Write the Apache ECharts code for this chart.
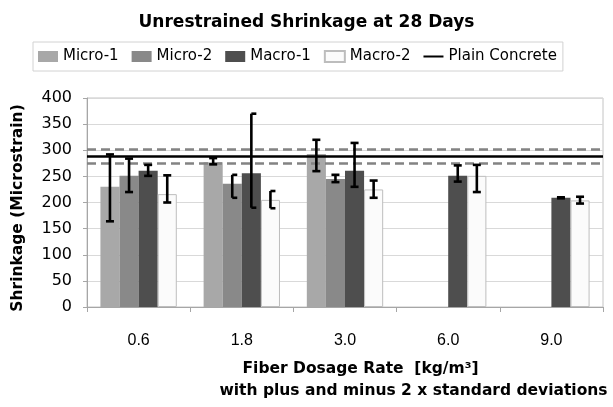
<!DOCTYPE html>
<html>
<head>
<meta charset="utf-8">
<script src="https://cdn.jsdelivr.net/npm/echarts@6/dist/echarts.min.js"></script>
<style>
html,body{margin:0;padding:0;background:#fff;}
#c{width:613px;height:407px;}
</style>
</head>
<body>
<div id="c"></div>
<script>
// ---- data ----
const categories = ['0.6', '1.8', '3.0', '6.0', '9.0'];
const seriesNames = ['Micro-1', 'Micro-2', 'Macro-1', 'Macro-2'];
const micro1 = [230, 277, 293, null, null];
const micro2 = [251, 236, 245, null, null];
const macro1 = [261, 256, 261, 251, 209];
const macro2 = [216, 205, 225, 251, 204];
// error bar ranges [low, high] (plus / minus 2 x standard deviations)
const micro1Err = [[164, 292], [273, 285], [260, 320], null, null];
const micro2Err = [[220, 284], [209, 253], [239, 253], null, null];
const macro1Err = [[251, 272], [190, 370], [230, 314], [240, 271], [208, 210]];
const macro2Err = [[200, 252], [189, 222], [209, 242], [220, 272], [198, 211]];
const plainConcrete = 289;
const plainLow = 275;
const plainHigh = 301;
const yTicks = [0, 50, 100, 150, 200, 250, 300, 350, 400];

// ---- styling ----
const barValues = [micro1, micro2, macro1, macro2];
const errValues = [micro1Err, micro2Err, macro1Err, macro2Err];
const barColors = ['#a8a8a8', '#898989', '#4e4e4e', '#fbfbfb'];
// error bars drawn as "[" (caps on one side only): [seriesIndex, categoryIndex]
const bracketBars = [[1, 1], [2, 1], [3, 1]];
const catGap = 0.26;
const fontA = 'Liberation Sans, Arial, sans-serif';
const fontD = 'DejaVu Sans, sans-serif';

const chart = echarts.init(document.getElementById('c'), null, {renderer: 'canvas'});

const series = [];
seriesNames.forEach((name, i) => {
  series.push({
    name: name,
    type: 'bar',
    data: barValues[i],
    barGap: '0%',
    barCategoryGap: (catGap * 100) + '%',
    itemStyle: i === 3
      ? {color: barColors[i], borderColor: '#bdbdbd', borderWidth: 1}
      : {color: barColors[i]},
    emphasis: {disabled: true},
    z: 2
  });
});

seriesNames.forEach((name, si) => {
  const data = [];
  errValues[si].forEach((e, ci) => { if (e) data.push([ci, e[0], e[1]]); });
  series.push({
    name: name + ' error',
    type: 'custom',
    data: data,
    encode: {x: 0, y: [1, 2]},
    z: 5,
    silent: true,
    renderItem: function (params, api) {
      const c = api.value(0);
      const lo = api.value(1), hi = api.value(2);
      const band = api.size([1, 0])[0];
      const bw = band * (1 - catGap) / 4;
      const pLo = api.coord([c, lo]);
      const pHi = api.coord([c, hi]);
      const x = pLo[0] + (si - 1.5) * bw;
      const half = bracketBars.some(b => b[0] === si && b[1] === c);
      const capL = half ? 0 : 4, capR = half ? 5 : 4;
      const st = {stroke: '#000', lineWidth: 2.6, fill: null};
      return {
        type: 'group',
        children: [
          {type: 'line', shape: {x1: x, y1: pLo[1], x2: x, y2: pHi[1]}, style: st},
          {type: 'line', shape: {x1: x - capL, y1: pHi[1], x2: x + capR, y2: pHi[1]}, style: st},
          {type: 'line', shape: {x1: x - capL, y1: pLo[1], x2: x + capR, y2: pLo[1]}, style: st}
        ]
      };
    }
  });
});

series.push({
  name: 'Plain Concrete',
  type: 'line',
  data: categories.map(() => null),
  symbol: 'none',
  showSymbol: false,
  lineStyle: {color: '#000', width: 2.5},
  itemStyle: {color: '#000'},
  z: 4,
  markLine: {
    silent: true,
    symbol: 'none',
    label: {show: false},
    animation: false,
    data: [
      {yAxis: plainHigh, lineStyle: {color: '#838383', width: 2.6, type: [9, 5]}},
      {yAxis: plainLow, lineStyle: {color: '#838383', width: 2.6, type: [9, 5]}},
      {yAxis: plainConcrete, lineStyle: {color: '#000', width: 2.5, type: 'solid'}}
    ]
  }
});

const option = {
  animation: false,
  backgroundColor: '#fff',
  textStyle: {fontFamily: fontD, color: '#000'},
  title: {
    text: 'Unrestrained Shrinkage at 28 Days',
    left: 'center',
    top: 9,
    textStyle: {fontFamily: fontD, fontSize: 17, fontWeight: 'bold', color: '#000'}
  },
  legend: {
    left: 33,
    top: 42,
    orient: 'horizontal',
    padding: [7, 6, 7, 5],
    itemGap: 13,
    itemWidth: 20,
    itemHeight: 11,
    borderColor: '#d2d2d2',
    borderWidth: 1,
    selectedMode: false,
    textStyle: {fontFamily: fontD, fontSize: 15, color: '#000'},
    data: [
      {name: 'Micro-1', icon: 'rect'},
      {name: 'Micro-2', icon: 'rect'},
      {name: 'Macro-1', icon: 'rect'},
      {name: 'Macro-2', icon: 'rect'},
      {name: 'Plain Concrete', icon: 'path://M0,0L22,0L22,0ZM0,4.3H22V6.7H0ZM0,11L22,11L22,11Z',
        itemStyle: {color: '#000', borderWidth: 0}}
    ]
  },
  grid: {
    left: 87, right: 10, top: 98, bottom: 100,
    show: true, borderColor: '#c4c4c4', borderWidth: 1, backgroundColor: 'transparent'
  },
  xAxis: {
    type: 'category',
    data: categories,
    boundaryGap: true,
    axisLine: {lineStyle: {color: '#a6a6a6', width: 1}},
    axisTick: {show: true, length: 5, inside: false, alignWithLabel: false, lineStyle: {color: '#a6a6a6'}},
    axisLabel: {fontFamily: fontA, fontSize: 16, color: '#000', margin: 26},
    splitLine: {show: false}
  },
  yAxis: {
    type: 'value',
    min: yTicks[0],
    max: yTicks[yTicks.length - 1],
    interval: yTicks[1] - yTicks[0],
    axisLine: {show: true, lineStyle: {color: '#a6a6a6', width: 1}},
    axisTick: {show: true, length: 4, lineStyle: {color: '#a6a6a6'}},
    axisLabel: {fontFamily: fontD, fontSize: 16, color: '#000', margin: 15},
    splitLine: {show: true, lineStyle: {color: '#d9d9d9', width: 1}}
  },
  graphic: [
    {
      type: 'text', x: 17.5, y: 208, rotation: Math.PI / 2,
      style: {text: 'Shrinkage (Microstrain)', fontFamily: fontD, fontSize: 15.5, fontWeight: 'bold',
        fill: '#000', align: 'center', verticalAlign: 'middle'}
    },
    {
      type: 'text', x: 360.5, y: 369,
      style: {text: 'Fiber Dosage Rate  [kg/m³]', fontFamily: fontD, fontSize: 15.5, fontWeight: 'bold',
        fill: '#000', align: 'center', verticalAlign: 'middle'}
    },
    {
      type: 'text', x: 413.5, y: 391,
      style: {text: 'with plus and minus 2 x standard deviations', fontFamily: fontD, fontSize: 15.5, fontWeight: 'bold',
        fill: '#000', align: 'center', verticalAlign: 'middle'}
    }
  ],
  series: series
};

chart.setOption(option);
</script>
</body>
</html>
